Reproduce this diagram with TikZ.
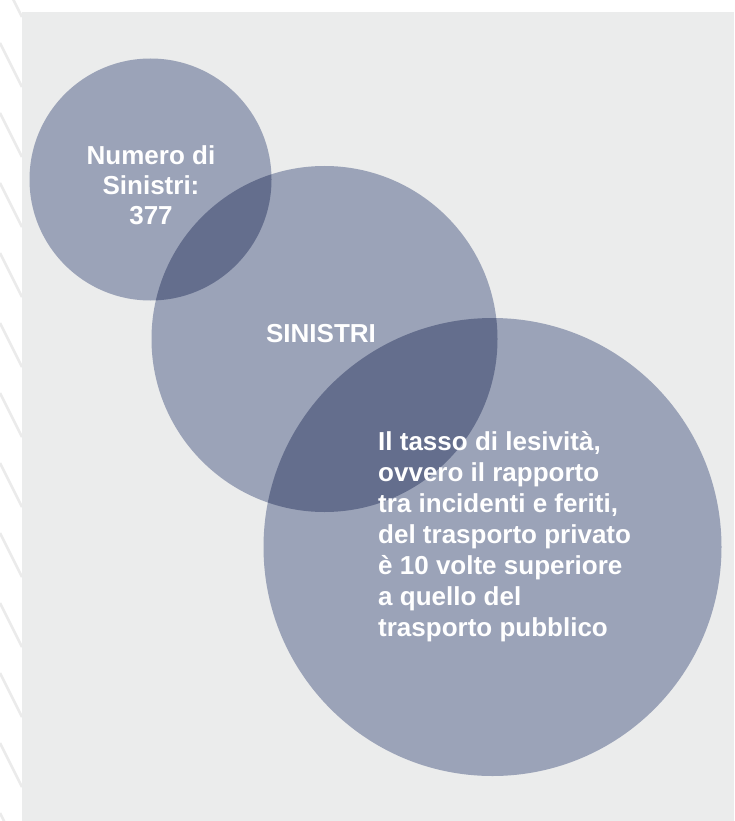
\documentclass[tikz,border=0pt]{standalone}
\usepackage{fontspec}
\setmainfont{Liberation Sans}
\definecolor{bgray}{HTML}{EBECEC}
\definecolor{circ}{HTML}{9BA3B8}
\definecolor{circdark}{HTML}{646E8D}
\definecolor{stripe}{HTML}{EBEBEB}
\tikzset{
  bubble/.style={circle, fill=circ, draw=none, inner sep=0pt},
  label/.style={text=white, font=\fontsize{26}{31}\selectfont\bfseries, inner sep=0pt},
  stripeline/.style={draw=stripe, line width=2.5pt}
}
\begin{document}
\begin{tikzpicture}[x=1pt,y=-1pt]
\useasboundingbox (0,0) rectangle (734,821);
\fill[white] (0,0) rectangle (734,821);
\begin{scope}
  \clip (0,0) rectangle (22,821);
  \foreach \k in {0,...,12} \draw[stripeline] (0,-27+70*\k) -- (22,17+70*\k);
\end{scope}
\fill[bgray] (22,12) rectangle (734,821);
\node[bubble, minimum size=242pt] (c1) at (150.5,179.5) {};
\node[bubble, minimum size=346pt] (c2) at (324.5,339) {};
\node[bubble, minimum size=458pt] (c3) at (492.5,547) {};
\begin{scope}
  \clip (150.5,179.5) circle (121pt);
  \fill[circdark] (324.5,339) circle (173pt);
\end{scope}
\begin{scope}
  \clip (324.5,339) circle (173pt);
  \fill[circdark] (492.5,547) circle (229pt);
\end{scope}
\node[label, align=center, anchor=north, font=\fontsize{26}{30}\selectfont\bfseries] (t1) at (151,145) {Numero di\\Sinistri:\\377};
\node[label, anchor=base] (t2) at (321,342) {SINISTRI};
\node[label, align=left, anchor=north west] (t3) at (378,431) {Il tasso di lesività,\\ovvero il rapporto\\tra incidenti e feriti,\\del trasporto privato\\è 10 volte superiore\\a quello del\\trasporto pubblico};
\end{tikzpicture}
\end{document}
